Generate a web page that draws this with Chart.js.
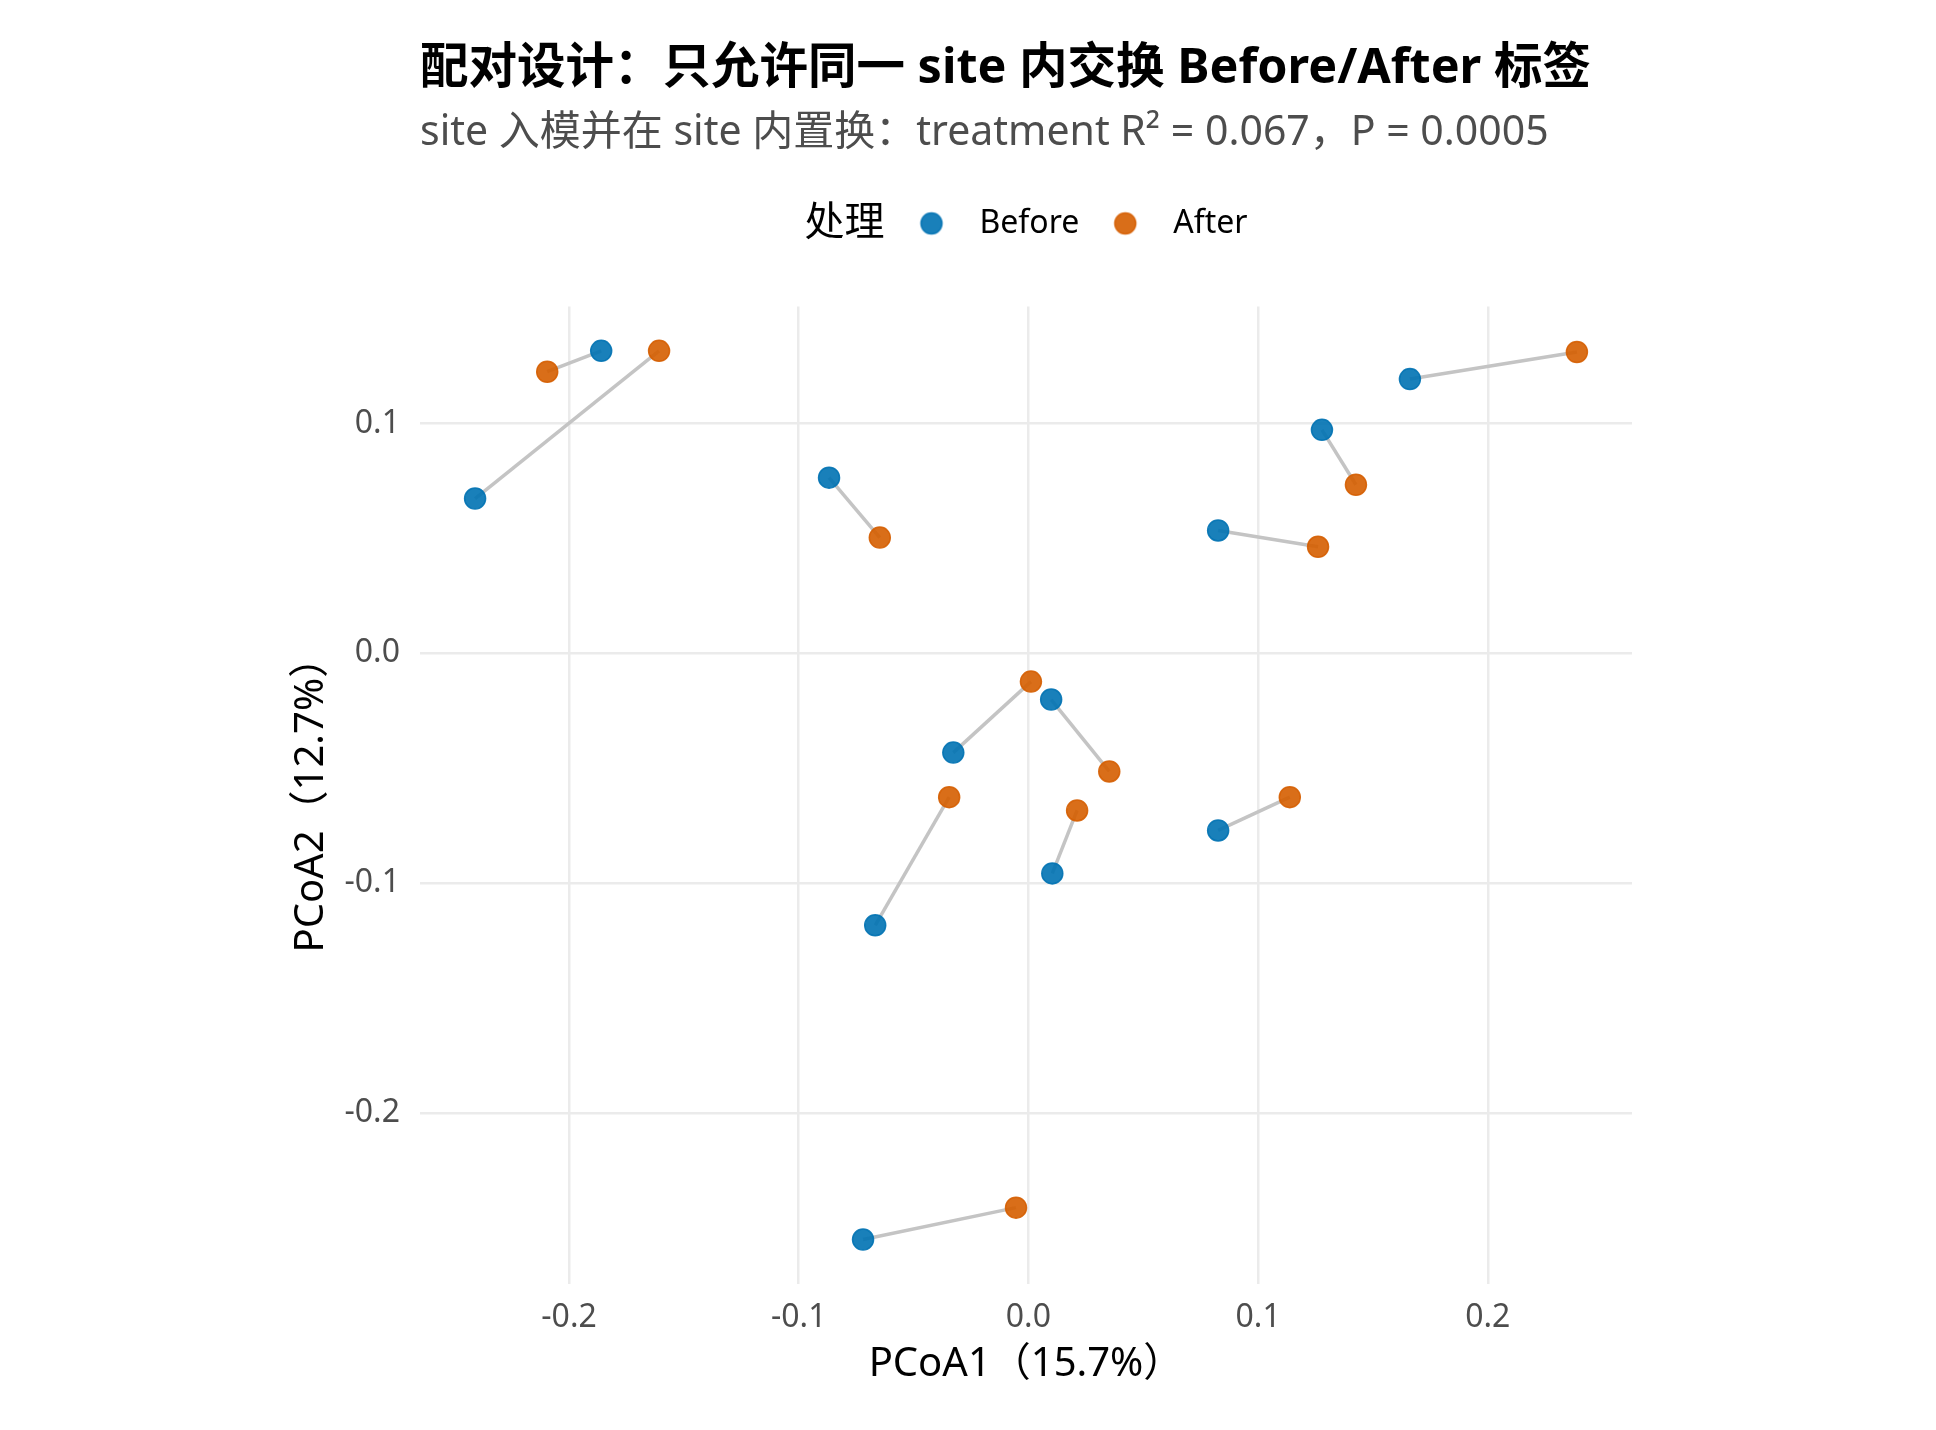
<!DOCTYPE html>
<html>
<head>
<meta charset="utf-8">
<script src="https://cdn.jsdelivr.net/npm/chart.js@4.4.1/dist/chart.umd.min.js"></script>
<style>
  html, body { margin: 0; padding: 0; background: #ffffff; }
  #wrap { width: 1936px; height: 1430px; }
</style>
</head>
<body>
<div id="wrap"><canvas id="c" width="1936" height="1430"></canvas></div>
<script>
// ---------------- data ----------------
const sites   = ['site01','site02','site03','site04','site05','site06','site07','site08','site09','site10','site11','site12'];
const beforeX = [-0.2409, -0.1860, -0.0868, 0.1661, 0.1278, 0.0826, 0.0099, -0.0327, -0.0667, 0.0104, 0.0826, -0.0720];
const beforeY = [ 0.0674,  0.1317,  0.0765, 0.1194, 0.0973, 0.0535, -0.0201, -0.0432, -0.1184, -0.0958, -0.0771, -0.2552];
const afterX  = [-0.1608, -0.2095, -0.0647, 0.2388, 0.1426, 0.1261, 0.0352, 0.0011, -0.0345, 0.0212, 0.1138, -0.0054];
const afterY  = [ 0.1317,  0.1226,  0.0504, 0.1312, 0.0734, 0.0464, -0.0514, -0.0123, -0.0626, -0.0684, -0.0626, -0.2413];
const groupNames = ['Before', 'After'];
const xTickValues = [-0.2, -0.1, 0.0, 0.1, 0.2];
const yTickValues = [-0.2, -0.1, 0.0, 0.1];
const titleText = '配对设计：只允许同一 site 内交换 Before/After 标签';
const subtitleText = 'site 入模并在 site 内置换：treatment R² = 0.067，P = 0.0005';
const legendTitle = '处理';
const xTitle = 'PCoA1（15.7%）';
const yTitle = 'PCoA2（12.7%）';

// ---------------- styles ----------------
const FONT = "'Noto Sans', 'Noto Sans CJK SC', sans-serif";
const colBefore = 'rgba(0,114,178,0.9)';
const colAfter  = 'rgba(213,94,0,0.9)';
const segColor  = '#C4C4C4';
const gridColor = '#EBEBEB';

// expanded ranges (5% like ggplot)
function expand(vals) {
  const mn = Math.min(...vals), mx = Math.max(...vals);
  const e = (mx - mn) * 0.05;
  return [mn - e, mx + e];
}
const xr = expand(beforeX.concat(afterX));
const yr = expand(beforeY.concat(afterY));

function dotImage(color) {
  const c = document.createElement('canvas');
  c.width = 26; c.height = 26;
  const g = c.getContext('2d');
  g.beginPath();
  g.arc(13, 13, 10.5, 0, Math.PI * 2);
  g.fillStyle = color; g.fill();
  g.lineWidth = 1.5; g.strokeStyle = color; g.stroke();
  return c;
}
const legendDots = [dotImage(colBefore), dotImage(colAfter)];

const datasets = [];
sites.forEach((s, i) => {
  datasets.push({
    type: 'line',
    label: s,
    data: [{x: beforeX[i], y: beforeY[i]}, {x: afterX[i], y: afterY[i]}],
    showLine: true,
    borderColor: segColor,
    borderWidth: 3.5,
    pointRadius: 0,
    pointHoverRadius: 0,
    fill: false,
    order: 3
  });
});
datasets.push({
  type: 'scatter',
  label: groupNames[0],
  data: beforeX.map((x, i) => ({x: x, y: beforeY[i]})),
  backgroundColor: colBefore,
  borderColor: colBefore,
  borderWidth: 1.5,
  pointRadius: 10.5,
  order: 2
});
datasets.push({
  type: 'scatter',
  label: groupNames[1],
  data: afterX.map((x, i) => ({x: x, y: afterY[i]})),
  backgroundColor: colAfter,
  borderColor: colAfter,
  borderWidth: 1.5,
  pointRadius: 10.5,
  order: 1
});

const LEG_FONT = 32, LEG_PAD = 14, LEG_TITLE_FONT = 40, LEG_GAP = 15;

const layoutPlugin = {
  id: 'ggLayout',
  afterLayout(chart) {
    const ca = chart.chartArea;
    // left-align title & subtitle with panel
    chart.boxes.forEach(b => {
      if (b.options && (b.options.text === titleText || b.options.text === subtitleText)) {
        b.left = ca.left;
        b.right = chart.width - 10;
      }
    });
    // center legend group (title + items) over panel
    const lg = chart.legend;
    if (lg && lg.lineWidths) {
      const ctx = chart.ctx;
      ctx.save();
      ctx.font = LEG_TITLE_FONT + 'px ' + FONT;
      const tw = ctx.measureText(legendTitle).width;
      ctx.restore();
      const itemsW = lg.lineWidths[0] - LEG_PAD;
      const total = tw + LEG_GAP + itemsW;
      const cx = (ca.left + ca.right) / 2;
      const itemsStart = cx - total / 2 + tw + LEG_GAP;
      const cur = (lg.left + LEG_PAD + lg.right - lg.lineWidths[0]) / 2;
      const d = itemsStart - cur;
      lg.left += d; lg.right += d;
      chart.$legTitle = { x: itemsStart - LEG_GAP, y: lg.top + LEG_PAD + LEG_FONT / 2 };
    }
  },
  afterDraw(chart) {
    if (!chart.$legTitle) return;
    const ctx = chart.ctx;
    ctx.save();
    ctx.font = LEG_TITLE_FONT + 'px ' + FONT;
    ctx.fillStyle = '#000000';
    ctx.textAlign = 'right';
    ctx.textBaseline = 'middle';
    ctx.fillText(legendTitle, chart.$legTitle.x, chart.$legTitle.y);
    ctx.restore();
  }
};

new Chart(document.getElementById('c'), {
  type: 'scatter',
  data: { datasets: datasets },
  plugins: [layoutPlugin],
  options: {
    responsive: false,
    devicePixelRatio: 1,
    animation: false,
    layout: { padding: { left: 270, right: 304, top: 0, bottom: 16 } },
    plugins: {
      tooltip: { enabled: false },
      title: {
        display: true, text: titleText, align: 'start', color: '#000000',
        font: { family: FONT, size: 48.5, weight: 'bold', lineHeight: 1.2 },
        padding: { top: 40, bottom: 0 }
      },
      subtitle: {
        display: true, text: subtitleText, align: 'start', color: '#4D4D4D',
        font: { family: FONT, size: 41, weight: 'normal', lineHeight: 1.2 },
        padding: { top: 11, bottom: 35 }
      },
      legend: {
        display: true, position: 'top', align: 'center',
        labels: {
          font: { family: FONT, size: LEG_FONT },
          color: '#000000',
          usePointStyle: true,
          pointStyleWidth: 64,
          padding: LEG_PAD,
          generateLabels(chart) {
            return groupNames.map((name, i) => ({
              text: name,
              pointStyle: legendDots[i],
              fillStyle: i === 0 ? colBefore : colAfter,
              strokeStyle: i === 0 ? colBefore : colAfter,
              lineWidth: 0,
              hidden: false,
              datasetIndex: sites.length + i,
              fontColor: '#000000'
            }));
          }
        }
      }
    },
    scales: {
      x: {
        type: 'linear', position: 'bottom',
        min: xr[0], max: xr[1],
        afterBuildTicks(s) { s.ticks = xTickValues.map(v => ({ value: v })); },
        afterFit(s) { s.height = 130; },
        ticks: {
          callback: v => Number(v).toFixed(1),
          color: '#4D4D4D', padding: 15,
          font: { family: FONT, size: 32, lineHeight: 1.2 },
          maxRotation: 0
        },
        grid: { color: gridColor, lineWidth: 2.5, drawTicks: false },
        border: { display: false },
        title: {
          display: true, text: xTitle, color: '#000000',
          font: { family: FONT, size: 40, lineHeight: 1.2 },
          padding: { top: 0, bottom: 25 }
        }
      },
      xTop: {
        type: 'linear', position: 'top', display: true,
        ticks: { display: false },
        grid: { display: false, drawTicks: false },
        border: { display: false },
        afterFit(s) { s.height = 57; }
      },
      y: {
        type: 'linear', position: 'left',
        min: yr[0], max: yr[1],
        afterBuildTicks(s) { s.ticks = yTickValues.map(v => ({ value: v })); },
        afterFit(s) { s.width = 150; },
        ticks: {
          callback: v => Number(v).toFixed(1),
          color: '#4D4D4D', padding: 20,
          font: { family: FONT, size: 32, lineHeight: 1.2 }
        },
        grid: { color: gridColor, lineWidth: 2.5, drawTicks: false },
        border: { display: false },
        title: {
          display: true, text: yTitle, color: '#000000',
          font: { family: FONT, size: 40, lineHeight: 1.2 },
          padding: { top: 18, bottom: 0 }
        }
      }
    }
  }
});
</script>
</body>
</html>
